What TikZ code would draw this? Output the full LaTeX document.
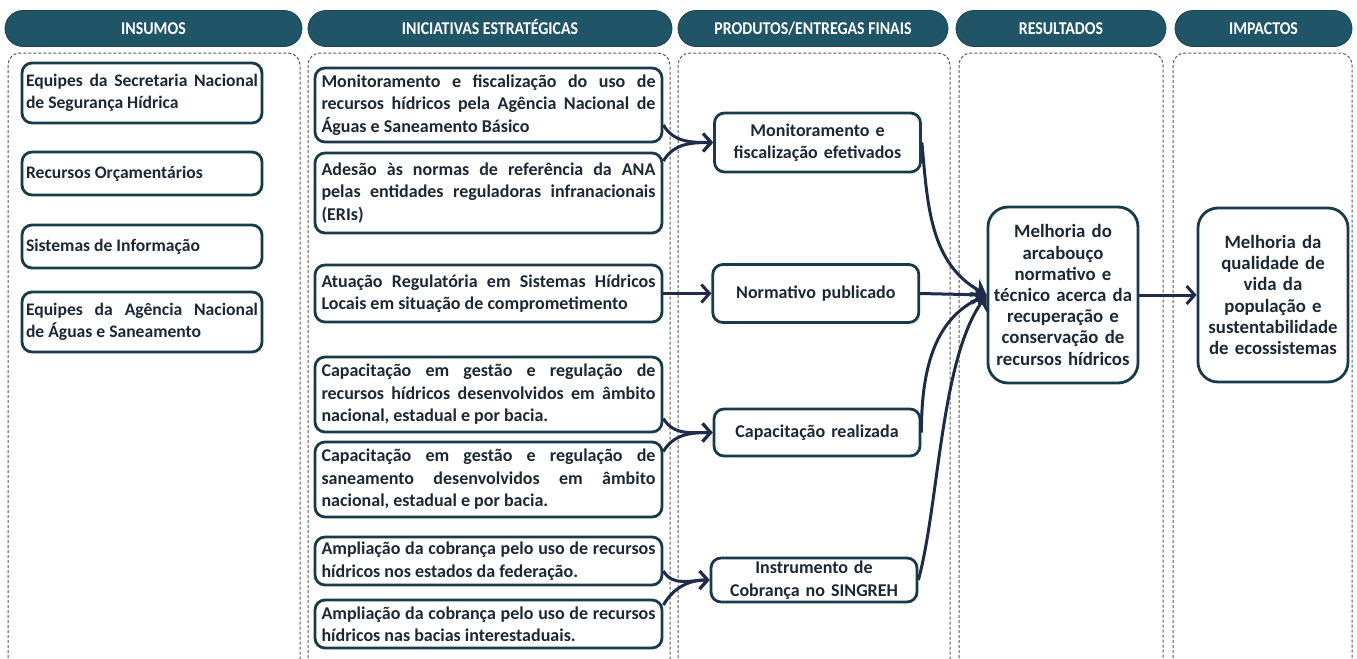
\documentclass[tikz,border=0pt]{standalone}
\usepackage{fontspec}
\setmainfont{Carlito}
\newfontfamily\headfont{Carlito}[FakeStretch=0.88]
\usetikzlibrary{arrows.meta,positioning}
\definecolor{headfill}{HTML}{1F5566}
\definecolor{boxline}{HTML}{173B4B}
\definecolor{flowc}{HTML}{1E2B4A}
\definecolor{txt}{HTML}{1B2836}

\begin{document}
\begin{tikzpicture}[x=0.5pt,y=-0.5pt,font=\fontsize{9}{11.25}\selectfont\bfseries,
    head/.style={rectangle,rounded corners=9pt,fill=headfill,draw=headfill!80!black,
      text=white,font=\headfont\fontsize{9}{11}\selectfont\bfseries,
      minimum height=18pt,inner sep=0pt,text height=5.8pt,text depth=0pt},
    panel/.style={draw=black!65,line width=0.5pt,dash pattern=on 1.5pt off 1pt,
      rounded corners=6pt},
    box/.style={rectangle,draw=boxline,line width=1.4pt,rounded corners=5pt,
      text=txt,fill=white},
    inbox/.style={box,text width=116pt,inner xsep=2pt,inner ysep=0.5pt,
      align=justify,minimum height=21.5pt,font=\fontsize{8.8}{11.25}\selectfont\bfseries},
    inic/.style={box,text width=167pt,inner xsep=3.25pt,inner ysep=0.5pt,
      align=justify},
    prod/.style={box,text width=97pt,inner xsep=3pt,inner ysep=0.5pt,align=center},
    resbox/.style={box,rounded corners=10pt,minimum width=75pt,
      minimum height=88pt,text width=72pt,inner xsep=1.5pt,align=center,
      font=\fontsize{9.4}{10.6}\selectfont\bfseries},
    flow/.style={draw=flowc,line width=1.5pt,-{Straight Barb[length=4pt,width=9pt]}},
    merge/.style={draw=flowc,line width=1.5pt,-{Stealth[length=7pt,width=10pt]}}]
  \useasboundingbox[fill=white] (0,0) rectangle (1357,659);
  \foreach \xl/\xr in {8/300,308/670,678/950,959/1163,1173/1352}
    \draw[panel] (\xl,668) |- ({(\xl+\xr)/2},53) -| (\xr,668);
  \node[head,minimum width=148.5pt] (hIns) at (153.5,28.5) {INSUMOS};
  \node[head,minimum width=182pt] (hIni) at (490,28.5) {INICIATIVAS ESTRATÉGICAS};
  \node[head,minimum width=135pt] (hPro) at (813,28.5) {PRODUTOS/ENTREGAS FINAIS};
  \node[head,minimum width=105pt] (hRes) at (1061,28.5) {RESULTADOS};
  \node[head,minimum width=88.5pt] (hImp) at (1263.5,28.5) {IMPACTOS};

  \node[inbox,minimum height=30pt] (in1) at (142,93)
    {Equipes da Secretaria Nacional\linebreak de Segurança Hídrica};
  \node[inbox] (in2) at (142,173.5) {Recursos Orçamentários};
  \node[inbox] (in3) at (142,246.5) {Sistemas de Informação};
  \node[inbox,minimum height=30pt] (in4) at (142,322)
    {Equipes da Agência Nacional\linebreak de Águas e Saneamento};

  \node[inic,minimum height=37pt] (ini1) at (488.5,105)
    {Monitoramento e fiscalização do uso de\linebreak recursos hídricos pela
     Agência Nacional de\linebreak Águas e Saneamento Básico};
  \node[inic,minimum height=40pt] (ini2) at (488.5,193)
    {Adesão às normas de referência da ANA\linebreak pelas entidades
     reguladoras infranacionais\linebreak (ERIs)};
  \node[inic,minimum height=28.5pt] (ini3) at (488.5,293.5)
    {Atuação Regulatória em Sistemas Hídricos\linebreak Locais em situação de
     comprometimento};
  \node[inic,minimum height=37.5pt] (ini4) at (488.5,394.5)
    {Capacitação em gestão e regulação de\linebreak recursos hídricos
     desenvolvidos em âmbito\linebreak nacional, estadual e por bacia.};
  \node[inic,minimum height=37.5pt] (ini5) at (488.5,479.5)
    {Capacitação em gestão e regulação de\linebreak saneamento desenvolvidos
     em âmbito\linebreak nacional, estadual e por bacia.};
  \node[inic,minimum height=24pt] (ini6) at (488.5,561)
    {Ampliação da cobrança pelo uso de recursos\linebreak hídricos nos estados
     da federação.};
  \node[inic,minimum height=24pt] (ini7) at (488.5,624)
    {Ampliação da cobrança pelo uso de recursos\linebreak hídricos nas bacias
     interestaduais.};

  \node[prod,minimum height=29.5pt] (pro1) at (817.5,142.5)
    {Monitoramento e\\ fiscalização efetivados};
  \node[prod,minimum height=29pt,right=24pt of ini3] (pro2) {Normativo publicado};
  \node[prod,minimum height=23.5pt] (pro3) at (817,432.5) {Capacitação realizada};
  \node[prod,minimum height=22pt] (pro4) at (814,580)
    {Instrumento de\\ Cobrança no SINGREH};

  \node[resbox] (res) at (1063,295) {Melhoria do\\ arcabouço\\ normativo e\\
    técnico acerca da\\ recuperação e\\ conservação de\\ recursos hídricos};
  \node[resbox,minimum height=87pt] (imp) at (1273,295) {Melhoria da\\
    qualidade de\\ vida da\\ população e\\ sustentabilidade\\ de ecossistemas};

  \draw[flow] ([yshift=-10pt]ini1.east) to[out=-60,in=180] (pro1.west);
  \draw[flow] ([yshift=16pt]ini2.east) to[out=60,in=180] (pro1.west);
  \draw[flow] (ini3.east) -- (pro2.west);
  \draw[flow] ([yshift=-12pt]ini4.east) to[out=-60,in=180] (pro3.west);
  \draw[flow] ([yshift=14pt]ini5.east) to[out=60,in=180] (pro3.west);
  \draw[flow] ([yshift=-5pt]ini6.east) to[out=-60,in=180] (pro4.west);
  \draw[flow] ([yshift=9.5pt]ini7.east) to[out=60,in=180] (pro4.west);
  \draw[merge] (pro1.east) to[out=-85,in=150] (res.west);
  \draw[merge] (pro2.east) -- (res.west);
  \draw[merge] (pro3.east) to[out=90,in=205] (res.west);
  \draw[merge] (pro4.east) to[out=75,in=235,looseness=0.7] (res.west);
  \draw[flow] (res.east) -- (imp.west);
\end{tikzpicture}
\end{document}
